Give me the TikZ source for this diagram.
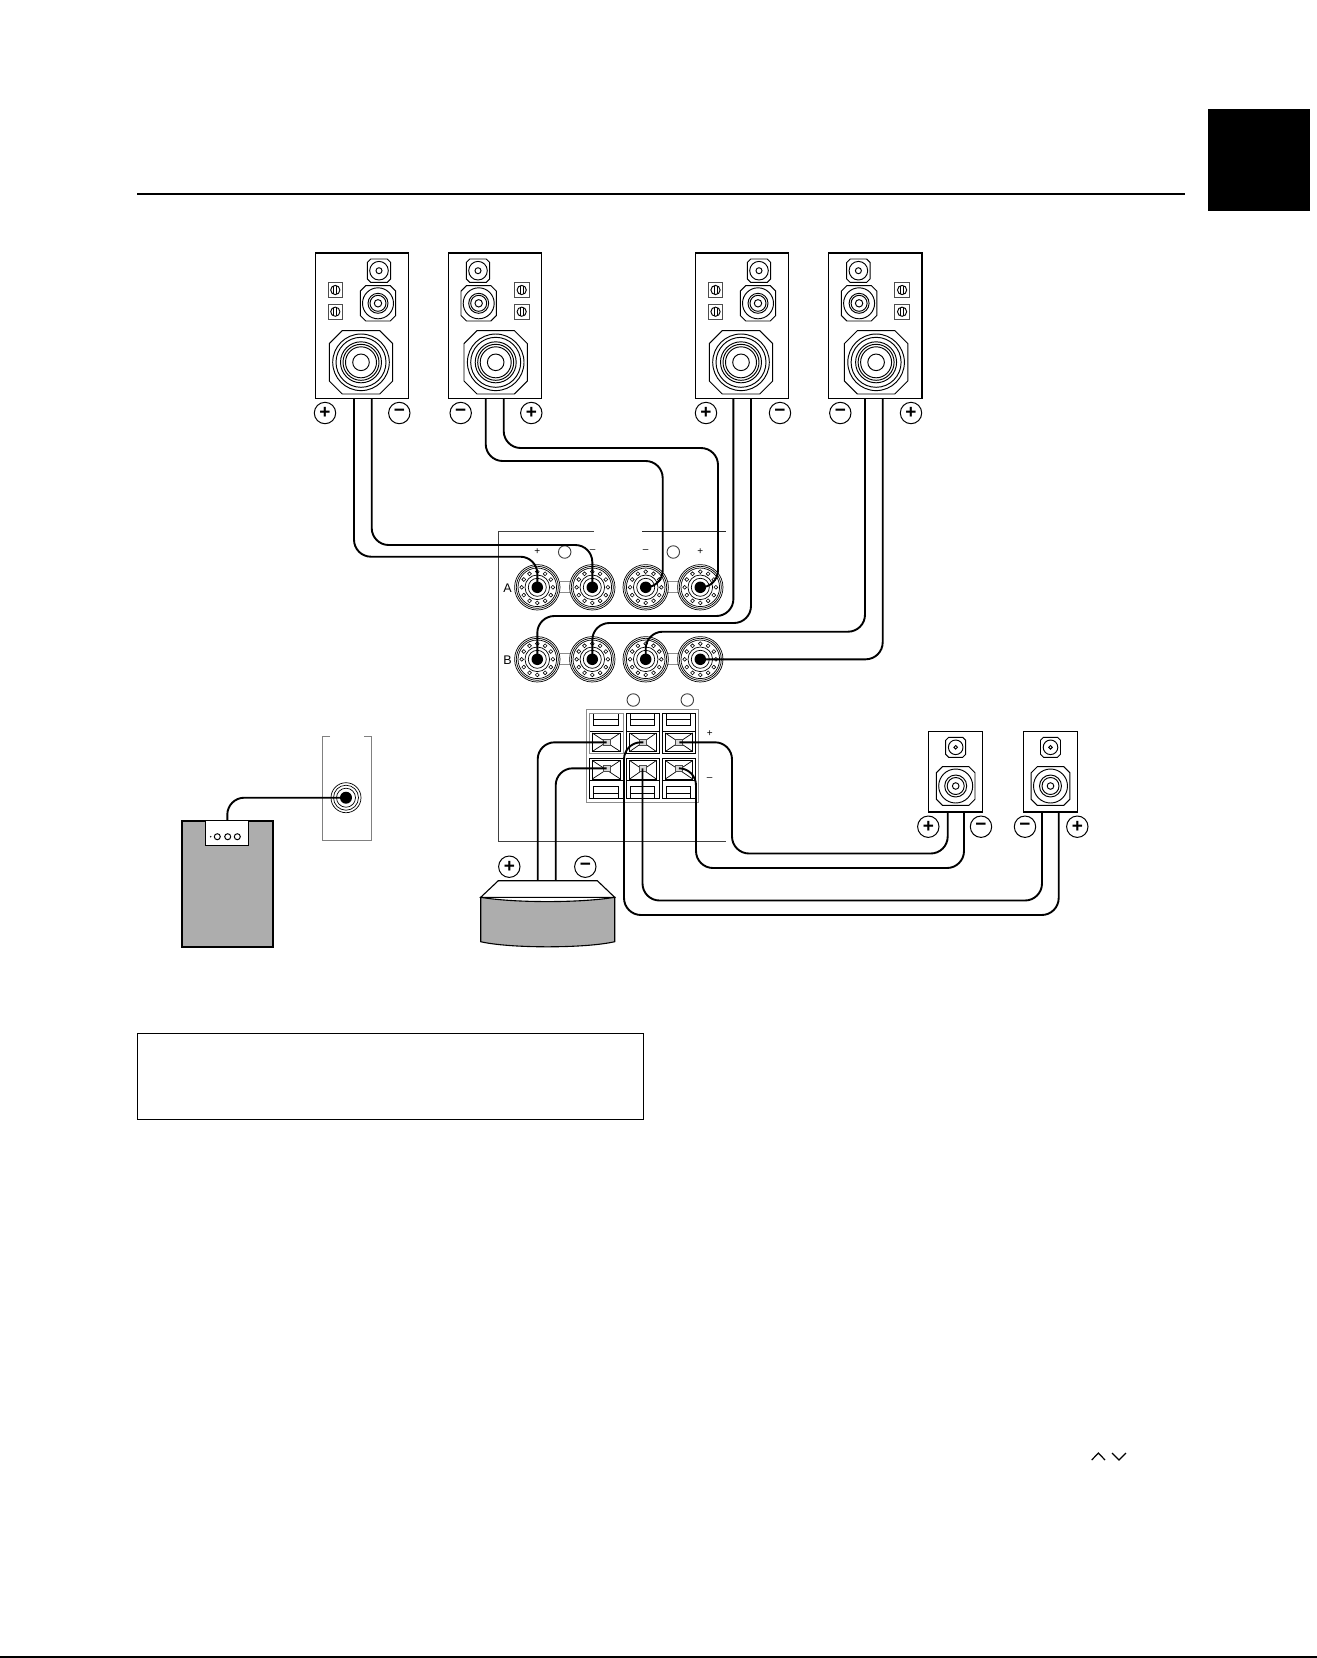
\documentclass[tikz,border=0pt]{standalone}
\usepackage{fontspec}
\setmainfont{Liberation Sans}
\tikzset{
  thinln/.style={draw=black,line width=0.95pt},
  ringln/.style={draw=black,line width=0.7pt},
  cable/.style={draw=black,line width=1.9pt,rounded corners=17pt},
  spkbox/.style={draw=black,line width=1.2pt,fill=white,inner sep=0pt,outer sep=0pt,minimum width=93.4pt,minimum height=145.6pt},
  minispk/.style={draw=black,line width=1.2pt,fill=white,inner sep=0pt,outer sep=0pt,minimum width=54.4pt,minimum height=80.7pt},
  polarity/.style={circle,draw=black,line width=1pt,fill=white,inner sep=0pt,outer sep=0pt,minimum size=21.4pt,font=\fontsize{19}{19}\selectfont\bfseries},
  tinylabel/.style={inner sep=0pt,font=\fontsize{10}{10}\selectfont},
  letterlabel/.style={inner sep=0pt,font=\fontsize{12.5}{14}\selectfont},
  post/.style={circle,fill=black,inner sep=0pt,outer sep=0pt,minimum size=11.5pt},
  led/.style={circle,draw=black!75,line width=0.9pt,fill=white,inner sep=0pt,minimum size=12.5pt},
  clip block/.style={draw=black!70,line width=0.7pt,fill=white!85!black,inner sep=0pt,outer sep=0pt,minimum width=7pt,minimum height=6pt}
}
\newcommand\octa[4]{\draw[thinln,shift={(#1,#2)}] (-#3+#4,-#3) -- (#3-#4,-#3) -- (#3,-#3+#4) -- (#3,#3-#4) -- (#3-#4,#3) -- (-#3+#4,#3) -- (-#3,#3-#4) -- (-#3,-#3+#4) -- cycle;}
\newcommand\rings[3]{\foreach \rr in {#3} \draw[thinln] (#1,#2) circle (\rr);}
\newcommand\adjuster[2]{%
  \draw[draw=black!70,line width=1pt] (#1-7.3,#2-7.3) rectangle (#1+7.3,#2+7.3);
  \draw[thinln] (#1,#2) circle (4.6);
  \draw[thinln] (#1-1.5,#2-4.2) -- (#1-1.5,#2+4.2) (#1+1.5,#2-4.2) -- (#1+1.5,#2+4.2);}
\newcommand\bigspk[6]{%
  \node[spkbox] (#1) at (#2,325.5) {};
  \draw[line width=2pt] (#1.north west) -- (#1.north east);
  \octa{#3}{270.7}{11.7}{3.5}\rings{#3}{270.7}{9.3,3}
  \octa{#4}{303.3}{17.7}{5.5}\rings{#4}{303.3}{15.5,10,8,3.7}
  \octa{#5}{362.3}{31.7}{13}\rings{#5}{362.3}{28.3,25,20.5,18,15.5,8.3}
  \adjuster{#6}{290}\adjuster{#6}{311.7}}
\newcommand\smallspk[3]{%
  \node[minispk] (#1) at (#2,771.6) {};
  \octa{#3}{747.3}{10}{3}\rings{#3}{747.3}{7.3,1.8}
  \octa{#3}{786}{19.3}{6}\rings{#3}{786}{17,11,8.5,3.3}}
\newcommand\jackpost[3]{%
  \begin{scope}[shift={(#2,#3)}]
    \foreach \rr in {22.7,21,19.3} \draw[ringln] (0,0) circle (\rr);
    \foreach \aa in {0,30,...,330} \draw[line width=0.6pt] (\aa:15.6) circle (1.9);
    \foreach \rr in {12.3,9} \draw[ringln] (0,0) circle (\rr);
    \node[post] (#1) at (0,0) {};
  \end{scope}}
\begin{document}
\begin{tikzpicture}[x=1pt,y=-1pt]
\fill[white] (0,0) rectangle (1317,1658);
\useasboundingbox (0,0) rectangle (1317,1658);
% page furniture
\fill[black] (1208,109) rectangle (1310,210.7);
\draw[line width=2.2pt] (137.4,194.2) -- (1185,194.2);
\draw[line width=1pt] (137.4,1033.8) rectangle (643.7,1119.4);
\draw[line width=1.2pt,line join=miter] (1091.7,1460) -- (1098.4,1453) -- (1105,1460);
\draw[line width=1.2pt,line join=miter] (1112,1453) -- (1119,1460) -- (1126,1453);
\fill[black] (0,1656.4) rectangle (1317,1658);
% speakers
\bigspk{spkA}{362}{379}{378}{361}{335.3}
\bigspk{spkB}{495}{478}{478.7}{495.7}{521.7}
\bigspk{spkC}{742}{759}{758}{741}{715.5}
\bigspk{spkD}{875.2}{858.4}{859.1}{876.1}{902.1}
\node[polarity] (pA) at (325,413) {+};
\node[polarity] (mA) at (399.3,413) {−};
\node[polarity] (mB) at (460.7,413) {−};
\node[polarity] (pB) at (531.3,413) {+};
\node[polarity] (pC) at (706,413) {+};
\node[polarity] (mC) at (780,413) {−};
\node[polarity] (mD) at (840.3,413) {−};
\node[polarity] (pD) at (911,413) {+};
% amp panel
\draw[line width=1pt,draw=black!75] (594,531.3) -- (498.3,531.3) -- (498.3,841) -- (726,841);
\draw[line width=1pt,draw=black!85] (642.3,531.3) -- (725.7,531.3);
\node[tinylabel] (lp1) at (537.3,551.3) {+};
\node[tinylabel] (lm1) at (592.7,551.3) {–};
\node[tinylabel] (lm2) at (645.7,551.3) {–};
\node[tinylabel] (lp2) at (700.3,551.3) {+};
\node[led] (ledA) at (564.7,552) {};
\node[led] (ledB) at (673.3,552) {};
\foreach \xa/\xb in {560/570,668/678} \foreach \yy in {587.3,659.3} \draw[line width=1pt,draw=black!45] (\xa,\yy-5.5) -- (\xb,\yy-5.5) (\xa,\yy+5.5) -- (\xb,\yy+5.5);
\jackpost{tA1}{537.3}{587.3}
\jackpost{tA2}{592.3}{587.3}
\jackpost{tA3}{645.7}{587.3}
\jackpost{tA4}{700.3}{587.3}
\jackpost{tB1}{537.3}{659.3}
\jackpost{tB2}{592.3}{659.3}
\jackpost{tB3}{645.7}{659.3}
\jackpost{tB4}{700.3}{659.3}
\node[letterlabel] (rowA) at (507.5,588) {A};
\node[letterlabel] (rowB) at (507.5,660) {B};
% terminal block
\node[led] (ledC) at (633.3,700) {};
\node[led] (ledD) at (687.3,700) {};
\draw[line width=1.2pt,draw=black!45] (586.7,709.3) rectangle (698.3,802.3);
\foreach \xl/\xr in {589.3/623.3,626.7/659.3,662.3/695.7}{
  \draw[line width=1pt] (\xl,758.7) rectangle (\xr,798.3) (\xl,780.3) -- (\xr,780.3);
  \draw[line width=1pt] (\xl+4,786.7) rectangle (\xr-5,798.3) (\xl+4,793) -- (\xr-5,793);
  \draw[line width=1pt] (\xl+3,760.5) rectangle (\xr-3,779);
  \draw[line width=0.7pt] (\xl+3,760.5) -- (\xr-3,779) (\xr-3,760.5) -- (\xl+3,779);
  \draw[line width=1pt] (\xl,713.3) rectangle (\xr,753.3) (\xl,731.7) -- (\xr,731.7);
  \draw[line width=1pt] (\xl+4,713.3) rectangle (\xr-5,725) (\xl+4,719.3) -- (\xr-5,719.3);
  \draw[line width=1pt] (\xl+3,733) rectangle (\xr-3,751.5);
  \draw[line width=0.7pt] (\xl+3,733) -- (\xr-3,751.5) (\xr-3,733) -- (\xl+3,751.5);
}
\draw[line width=1.1pt,draw=black!45] (589.3,713.3) rectangle (623.3,753.3);
\node[clip block] (bU1) at (606.5,742.3) {};
\node[clip block] (bU2) at (643.3,742.3) {};
\node[clip block] (bU3) at (679.3,742.3) {};
\node[clip block] (bL1) at (606.5,768.3) {};
\node[clip block] (bL2) at (642.5,768.3) {};
\node[clip block] (bL3) at (679.3,768.3) {};
\node[tinylabel] (lBp) at (709.7,734) {+};
\node[tinylabel] (lBm) at (709.7,779) {–};
% small speakers
\smallspk{spkE}{955.5}{955.7}
\smallspk{spkF}{1050.5}{1050.5}
\node[polarity] (pE) at (928.3,826.7) {+};
\node[polarity] (mE) at (981,826.7) {−};
\node[polarity] (mF) at (1025,826.7) {−};
\node[polarity] (pF) at (1077.3,826.7) {+};
% subwoofer panel and box
\draw[line width=1pt,draw=black!50] (330,736) -- (322.7,736) -- (322.7,840.7) -- (371.3,840.7) -- (371.3,736) -- (364,736);
\node[draw=black,line width=2pt,fill=black!32,inner sep=0pt,outer sep=0pt,minimum width=91.3pt,minimum height=126.6pt] (sub) at (227.7,884) {};
\node[draw=black,line width=1pt,fill=white,inner sep=0pt,outer sep=0pt,minimum width=43.4pt,minimum height=24.6pt] (subin) at (227,833) {};
\foreach \xx in {217.3,227.7,237.3} \draw[line width=1pt] (\xx,836.7) circle (3);
\fill[black] (210.7,836.7) circle (0.8);
\foreach \rr in {15,12.5,9.5} \draw[ringln] (346,797.7) circle (\rr);
\node[post,minimum size=12pt] (subjack) at (346,797.7) {};
% centre speaker
\node[polarity] (pG) at (509.3,866.7) {+};
\node[polarity] (mG) at (585.3,866.7) {−};
\coordinate (gP) at (537.7,880.7);
\coordinate (gM) at (555.7,880.7);
\draw[line width=1.1pt,fill=white] (480.7,897.3) -- (498.3,880.7) -- (597.3,880.7) -- (614.7,897.3) -- cycle;
\draw[line width=1.1pt,fill=black!32] (480.7,897.3) .. controls (515,903) and (580,903) .. (614.7,897.3) -- (614.7,941.7) .. controls (585,948.5) and (510,948.5) .. (480.7,941.7) -- cycle;
% cable start points
\coordinate (a1) at (354,398.3);   \coordinate (a2) at (371.7,398.3);
\coordinate (b1) at (485.7,398.3); \coordinate (b2) at (503.7,398.3);
\coordinate (c1) at (733.4,398.3); \coordinate (c2) at (751,398.3);
\coordinate (d1) at (865,398.3);   \coordinate (d2) at (882.7,398.3);
\coordinate (e1) at (947.7,812);   \coordinate (e2) at (964,812);
\coordinate (f1) at (1042,812);    \coordinate (f2) at (1058.7,812);
\coordinate (subtop) at (227.3,820.7);
% cables
\draw[cable] (a1) -- (354,556.7) -- (537.3,556.7) -- (tA1.center);
\draw[cable] (a2) -- (371.7,545) -- (592.3,545) -- (tA2.center);
\draw[cable] (b1) -- (485.7,461) -- (662.7,461) -- (662.7,587.3) -- (tA3.center);
\draw[cable] (b2) -- (503.7,448) -- (718,448) -- (718,587.3) -- (tA4.center);
\draw[cable] (c1) -- (733.4,616) -- (537.3,616) -- (tB1.center);
\draw[cable] (c2) -- (751,623) -- (592.3,623) -- (tB2.center);
\draw[cable] (d1) -- (865,631.7) -- (645.7,631.7) -- (tB3.center);
\draw[cable] (d2) -- (882.7,659.3) -- (tB4.center);
\draw[cable] (bU1.center) -- (537.7,742.3) -- (gP);
\draw[cable] (bL1.center) -- (555.7,768.3) -- (gM);
\draw[cable] (bU2.center) -- (624,742.3) -- (624,915) -- (1058.7,915) -- (f2);
\draw[cable] (bL2.center) -- (642.5,900.5) -- (1042,900.5) -- (f1);
\draw[cable] (bL3.center) -- (696,768.3) -- (696,868) -- (964,868) -- (e2);
\draw[cable] (bU3.center) -- (732,742.3) -- (732,853.5) -- (947.7,853.5) -- (e1);
\draw[cable] (subjack.center) -- (227.3,797.7) -- (subtop);
\end{tikzpicture}
\end{document}
